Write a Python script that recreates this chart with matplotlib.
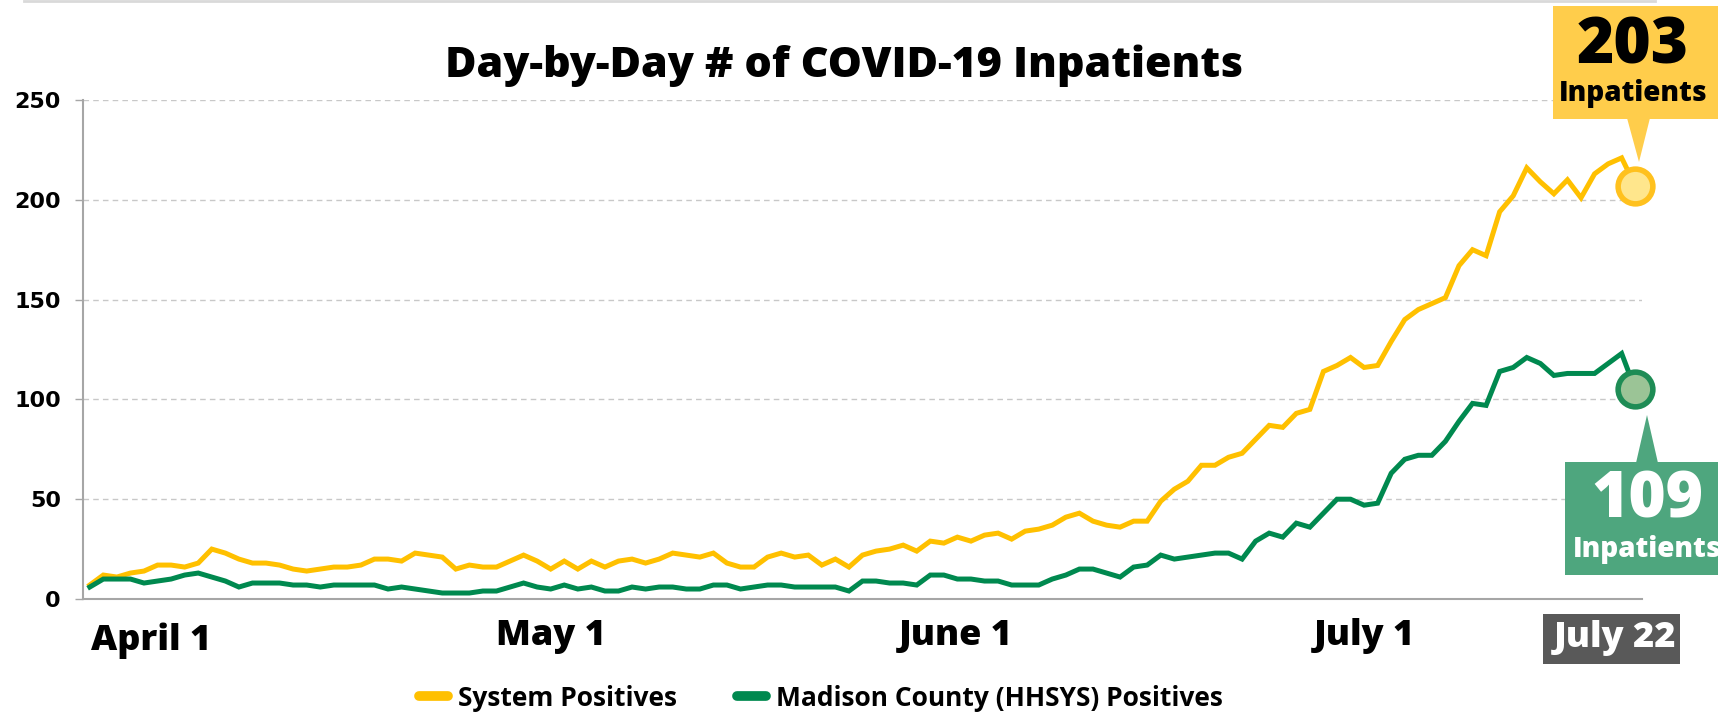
import numpy as np
import matplotlib
matplotlib.use("Agg")
import matplotlib.pyplot as plt
from matplotlib.patches import Rectangle, Polygon
from matplotlib.lines import Line2D

# daily inpatient counts
system_positives = [7, 12, 11, 13, 14, 17, 17, 16, 18, 25, 23, 20, 18, 18, 17, 15, 14, 15, 16, 16,
                    17, 20, 20, 19, 23, 22, 21, 15, 17, 16, 16, 19, 22, 19, 15, 19, 15, 19, 16, 19,
                    20, 18, 20, 23, 22, 21, 23, 18, 16, 16, 21, 23, 21, 22, 17, 20, 16, 22, 24, 25,
                    27, 24, 29, 28, 31, 29, 32, 33, 30, 34, 35, 37, 41, 43, 39, 37, 36, 39, 39, 49,
                    55, 59, 67, 67, 71, 73, 80, 87, 86, 93, 95, 114, 117, 121, 116, 117, 129, 140, 145, 148,
                    151, 167, 175, 172, 194, 202, 216, 209, 203, 210, 201, 213, 218, 221, 207]
madison_positives = [6, 10, 10, 10, 8, 9, 10, 12, 13, 11, 9, 6, 8, 8, 8, 7, 7, 6, 7, 7,
                     7, 7, 5, 6, 5, 4, 3, 3, 3, 4, 4, 6, 8, 6, 5, 7, 5, 6, 4, 4,
                     6, 5, 6, 6, 5, 5, 7, 7, 5, 6, 7, 7, 6, 6, 6, 6, 4, 9, 9, 8,
                     8, 7, 12, 12, 10, 10, 9, 9, 7, 7, 7, 10, 12, 15, 15, 13, 11, 16, 17, 22,
                     20, 21, 22, 23, 23, 20, 29, 33, 31, 38, 36, 43, 50, 50, 47, 48, 63, 70, 72, 72,
                     79, 89, 98, 97, 114, 116, 121, 118, 112, 113, 113, 113, 118, 123, 105]
days = np.arange(len(system_positives))

month_labels = ["April 1", "May 1", "June 1", "July 1"]
last_label = "July 22"
system_latest = "203"
madison_latest = "109"

YELLOW = "#FFC000"
GREEN = "#00894F"
W, H = 1718, 712
HEAVY = 800


def fx(x):
    return x / W


def fy(y):
    return 1 - y / H


fig = plt.figure(figsize=(W / 100, H / 100), dpi=100)
ax = fig.add_axes([fx(83), fy(599), fx(1642) - fx(83), fy(100) - fy(599)])

ax.plot(days, system_positives, color=YELLOW, linewidth=3.6, solid_joinstyle="miter", zorder=3)
ax.plot(days, madison_positives, color=GREEN, linewidth=3.6, solid_joinstyle="miter", zorder=3)

# end markers
ax.plot(days[-1], system_positives[-1], "o", markersize=25, markerfacecolor="#FFE68C",
        markeredgecolor="#FFC11E", markeredgewidth=4, zorder=5, clip_on=False)
ax.plot(days[-1], madison_positives[-1], "o", markersize=25, markerfacecolor="#9BC496",
        markeredgecolor="#1E8C55", markeredgewidth=4, zorder=5, clip_on=False)

ax.set_xlim(-0.5, 114.5)
ax.set_ylim(0, 250)
ax.set_yticks([0, 50, 100, 150, 200, 250])
ax.set_xticks([])
ax.grid(axis="y", linestyle=(0, (4, 3)), color="#C8C8C8", linewidth=1)
ax.set_axisbelow(True)
for s in ["top", "right"]:
    ax.spines[s].set_visible(False)
for s in ["left", "bottom"]:
    ax.spines[s].set_color("#A6A6A6")
    ax.spines[s].set_linewidth(1.5)
ax.tick_params(axis="y", length=6, width=1, color="#A6A6A6", pad=10)
for lab in ax.get_yticklabels():
    lab.set_fontfamily("DejaVu Sans")
    lab.set_fontweight("bold")
    lab.set_fontsize(16)

# title
fig.text(fx(844), fy(66), "Day-by-Day # of COVID-19 Inpatients", ha="center", va="center",
         fontsize=31, fontweight=HEAVY, family="Open Sans")

# month labels
label_x = [151, 551, 956, 1364]
label_y = [641, 636, 636, 636]
for t, x, y in zip(month_labels, label_x, label_y):
    fig.text(fx(x), fy(y), t, ha="center", va="center", fontsize=26,
             fontweight=HEAVY, family="Open Sans")

fig.patches.append(Rectangle((fx(1543), fy(664)), fx(1680) - fx(1543), fy(614) - fy(664),
                             transform=fig.transFigure, facecolor="#595959", edgecolor="none"))
fig.text(fx(1615), fy(638), last_label, ha="center", va="center", fontsize=26,
         fontweight=HEAVY, family="Open Sans", color="white")

# callout boxes
fig.patches.append(Rectangle((fx(1553), fy(119)), fx(1718) - fx(1553), fy(6) - fy(119),
                             transform=fig.transFigure, facecolor="#FFCD4B", edgecolor="none"))
fig.patches.append(Polygon([(fx(1627), fy(118)), (fx(1650), fy(118)), (fx(1639), fy(162))],
                           closed=True, transform=fig.transFigure, facecolor="#FFCD4B",
                           edgecolor="none"))
fig.text(fx(1633), fy(47), system_latest, ha="center", va="center", fontsize=46,
         fontweight=HEAVY, family="Open Sans", color="black")
fig.text(fx(1633), fy(93), "Inpatients", ha="center", va="center", fontsize=20,
         fontweight=HEAVY, family="Open Sans", color="black")

fig.patches.append(Rectangle((fx(1565), fy(575)), fx(1718) - fx(1565), fy(462) - fy(575),
                             transform=fig.transFigure, facecolor="#4EA67E", edgecolor="none"))
fig.patches.append(Polygon([(fx(1636), fy(463)), (fx(1658), fy(463)), (fx(1647), fy(415))],
                           closed=True, transform=fig.transFigure, facecolor="#4EA67E",
                           edgecolor="none"))
fig.text(fx(1647), fy(500), madison_latest, ha="center", va="center", fontsize=46,
         fontweight=HEAVY, family="Open Sans", color="white")
fig.text(fx(1647), fy(550), "Inpatients", ha="center", va="center", fontsize=20,
         fontweight=HEAVY, family="Open Sans", color="white")

# thin frame line at the very top
fig.add_artist(Line2D([fx(24), fx(1655)], [fy(1), fy(1)], transform=fig.transFigure,
                      color="#D9D9D9", linewidth=2))

# legend
handles = [Line2D([], [], color=YELLOW, linewidth=7, solid_capstyle="round"),
           Line2D([], [], color=GREEN, linewidth=7, solid_capstyle="round")]
leg = fig.legend(handles, ["System Positives", "Madison County (HHSYS) Positives"],
                 loc="center", bbox_to_anchor=(fx(821), fy(698)), ncol=2, frameon=False,
                 handlelength=1.1, handletextpad=0.35, columnspacing=2.3,
                 prop={"family": "Open Sans", "weight": "bold", "size": 19})

fig.savefig("out.png", dpi=100)
